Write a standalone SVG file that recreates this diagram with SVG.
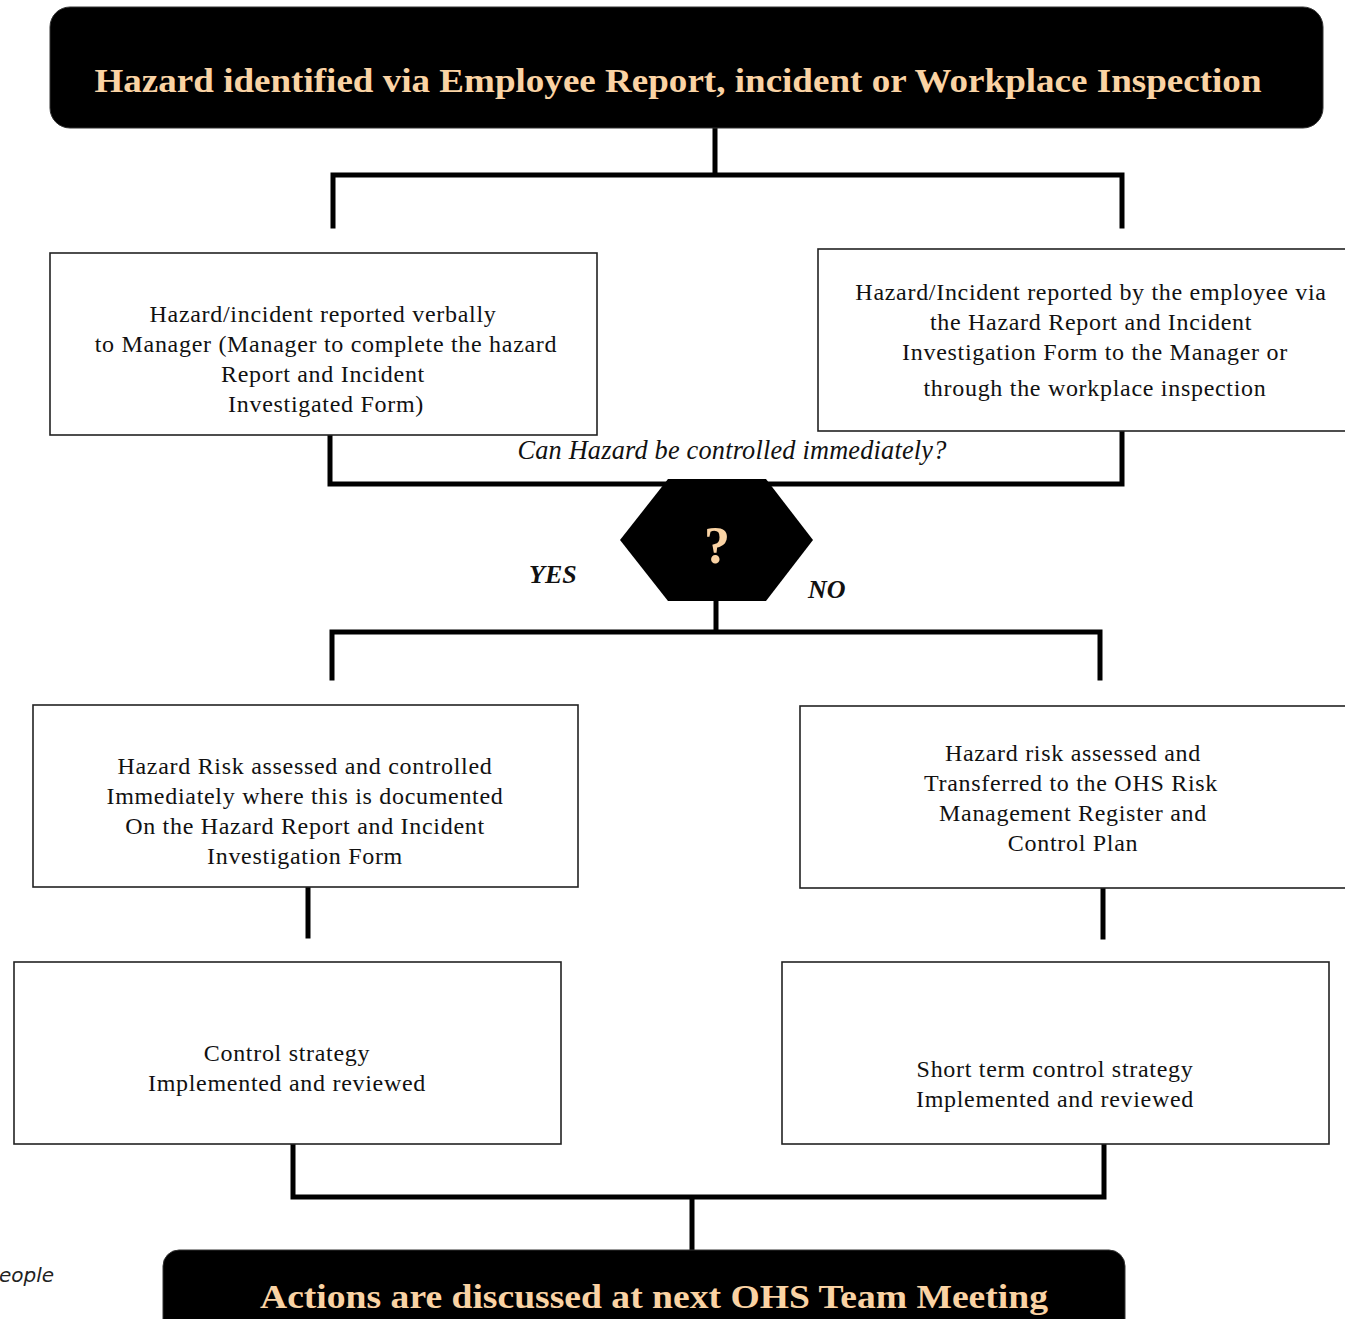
<svg xmlns="http://www.w3.org/2000/svg" width="1345" height="1319" viewBox="0 0 1345 1319">
<style>
.hdr{fill:#000;stroke:#333;stroke-width:1}
.hdrt{font-family:"Liberation Serif",serif;font-weight:bold;fill:#FAD3A4;text-anchor:middle}
.box{fill:#fff;stroke:#222;stroke-width:1.6}
.t{font-family:"Liberation Serif",serif;font-size:24px;letter-spacing:0.7px;fill:#111;text-anchor:middle}
.c{fill:none;stroke:#000;stroke-width:5;stroke-linecap:square;stroke-linejoin:miter}
.lbl{font-family:"Liberation Serif",serif;font-style:italic;fill:#111}
</style>
<rect width="1345" height="1319" fill="#fff"/>
<g id="connectors">
<path class="c" d="M715,128 V175 M333,226 V175 H1122 V226"/>
<path class="c" d="M330,436 V484 H1122 V432"/>
<path class="c" d="M716,600 V632 M332,678 V632 H1100 V678"/>
<path class="c" d="M308,888 V936"/>
<path class="c" d="M1103,889 V937"/>
<path class="c" d="M293,1146 V1197 H1104 V1146 M692,1197 V1250"/>
</g>
<g id="start">
<rect class="hdr" x="50" y="7" width="1273" height="121" rx="20"/>
<text class="hdrt" x="678" y="92" font-size="33" textLength="1167" lengthAdjust="spacingAndGlyphs">Hazard identified via Employee Report, incident or Workplace Inspection</text>
</g>
<g id="verbal">
<rect class="box" x="50" y="253" width="547" height="182"/>
<text class="t" x="323" y="322">Hazard/incident reported verbally</text>
<text class="t" x="326" y="352">to Manager (Manager to complete the hazard</text>
<text class="t" x="323" y="382">Report and Incident</text>
<text class="t" x="326" y="412">Investigated Form)</text>
</g>
<g id="form">
<rect class="box" x="818" y="249" width="540" height="182"/>
<text class="t" x="1091" y="300">Hazard/Incident reported by the employee via</text>
<text class="t" x="1091" y="330">the Hazard Report and Incident</text>
<text class="t" x="1095" y="360">Investigation Form to the Manager or</text>
<text class="t" x="1095" y="396">through the workplace inspection</text>
</g>
<text class="lbl" x="732" y="459" font-size="26.3" letter-spacing="0.2" text-anchor="middle">Can Hazard be controlled immediately?</text>
<g id="decision">
<polygon points="620,540 668,479 766,479 813,540 766,601 668,601" fill="#000"/>
<text class="hdrt" x="717" y="563" font-size="52">?</text>
</g>
<text class="lbl" x="529" y="583" font-size="26" font-weight="bold">YES</text>
<text class="lbl" x="808" y="598" font-size="26" font-weight="bold">NO</text>
<g id="immediate">
<rect class="box" x="33" y="705" width="545" height="182"/>
<text class="t" x="305" y="774">Hazard Risk assessed and controlled</text>
<text class="t" x="305" y="804">Immediately where this is documented</text>
<text class="t" x="305" y="834">On the Hazard Report and Incident</text>
<text class="t" x="305" y="864">Investigation Form</text>
</g>
<g id="register">
<rect class="box" x="800" y="706" width="560" height="182"/>
<text class="t" x="1073" y="761">Hazard risk assessed and</text>
<text class="t" x="1071" y="791">Transferred to the OHS Risk</text>
<text class="t" x="1073" y="821">Management Register and</text>
<text class="t" x="1073" y="851">Control Plan</text>
</g>
<g id="control">
<rect class="box" x="14" y="962" width="547" height="182"/>
<text class="t" x="287" y="1061">Control strategy</text>
<text class="t" x="287" y="1091">Implemented and reviewed</text>
</g>
<g id="shortterm">
<rect class="box" x="782" y="962" width="547" height="182"/>
<text class="t" x="1055" y="1077">Short term control strategy</text>
<text class="t" x="1055" y="1107">Implemented and reviewed</text>
</g>
<g id="end">
<rect class="hdr" x="163" y="1250" width="962" height="90" rx="16"/>
<text class="hdrt" x="654" y="1308" font-size="33" textLength="788" lengthAdjust="spacingAndGlyphs">Actions are discussed at next OHS Team Meeting</text>
</g>
<text x="-1" y="1282" font-family="DejaVu Sans,sans-serif" font-style="italic" font-size="20" fill="#222">eople</text>
</svg>
